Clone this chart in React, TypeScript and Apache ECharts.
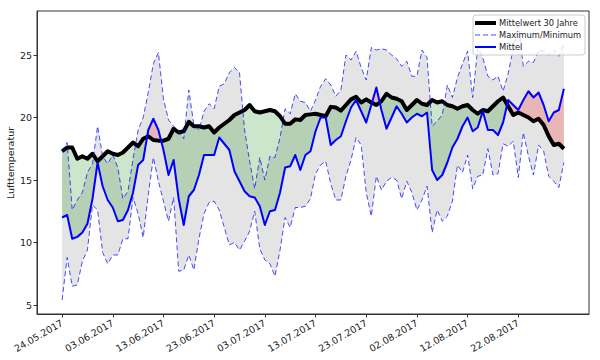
import React, { useEffect, useRef } from "react";
import * as echarts from "echarts";

const tickDays = [0, 10, 20, 30, 40, 50, 60, 70, 80, 90];
const yTicks = [5, 10, 15, 20, 25];
const legendLabels = ["Mittelwert 30 Jahre", "Maximum/Minimum", "Mittel"];
const yAxisTitle = "Lufttemperatur";

const mean30 = [
  17.3, 17.6, 17.6, 16.7, 16.9, 16.7, 17.1, 16.5, 16.9, 17.3,
  17.1, 17.0, 17.2, 17.6, 18.0, 17.7, 18.3, 18.5, 18.2, 18.15,
  18.15, 18.3, 19.1, 18.8, 18.9, 19.65, 19.3, 19.3, 19.2, 19.3,
  18.8, 19.2, 19.5, 19.8, 20.2, 20.4, 20.6, 21.0, 20.5, 20.4,
  20.5, 20.6, 20.5, 20.1, 19.5, 19.5, 19.85, 19.8, 20.2, 20.25,
  20.3, 20.2, 20.1, 20.85, 20.8, 20.55, 21.0, 21.45, 21.65, 21.2,
  21.45, 21.2, 21.0, 21.3, 21.9, 21.6, 21.5, 21.3, 20.6, 21.0,
  21.4, 21.1, 21.0, 21.4, 21.2, 21.3, 21.0, 20.9, 20.7, 20.9,
  21.0, 20.6, 20.3, 20.6, 20.5, 20.9, 21.3, 21.6, 20.9, 20.2,
  20.4, 20.2, 20.0, 19.7, 19.9, 19.4, 18.5, 17.8, 17.9, 17.5,
];

const mittel = [
  12.0, 12.2, 10.3, 10.45, 10.8, 11.5, 13.5, 16.4, 14.5, 13.4,
  12.8, 11.7, 11.8, 12.6, 14.0, 16.2, 16.6, 19.0, 19.9, 19.0,
  17.4, 15.4, 16.6, 13.5, 11.4, 13.7, 14.2, 15.4, 17.0, 17.0,
  17.0, 18.4, 17.9, 17.4, 15.7, 14.9, 14.1, 13.7, 13.6, 12.9,
  11.4, 12.5, 12.6, 14.0, 16.0, 16.1, 17.0, 15.8, 17.0, 17.3,
  18.9, 20.0, 20.0, 17.8, 18.2, 18.5, 19.7, 20.8, 21.4, 20.5,
  19.6, 21.0, 22.4, 20.6, 19.1, 20.0, 20.9, 20.3, 19.6, 20.0,
  20.3, 20.1, 20.4, 15.8, 15.0, 15.4, 16.4, 17.6, 18.3, 19.3,
  20.0, 18.9, 19.2, 20.5, 19.0, 19.0, 18.6, 19.6, 21.4, 21.0,
  20.6, 21.4, 22.1, 21.6, 22.0, 21.0, 19.7, 20.4, 20.6, 22.3,
];

const maxT = [
  17.3, 18.0, 12.6, 13.4, 14.0, 15.6, 16.3, 19.3, 16.9, 16.3,
  17.0, 16.0, 13.5, 14.1, 16.7, 19.0, 20.0, 22.0, 24.3, 25.2,
  21.5, 19.8, 19.3, 18.9, 18.3, 22.2, 19.4, 19.0, 20.5, 21.1,
  20.7, 22.5, 22.7, 23.6, 24.0, 23.6, 19.0, 16.5, 14.3, 16.8,
  15.0, 16.9, 16.8, 18.4, 20.7, 20.3, 21.9, 21.3, 21.2, 20.5,
  21.4, 22.5, 23.1, 22.6, 21.7, 22.2, 25.0, 24.6, 25.3, 24.0,
  23.0, 25.6, 25.4, 25.5, 25.4, 25.0, 24.7, 24.1, 24.5, 23.3,
  23.3, 25.4, 24.8, 19.3, 19.7, 20.2, 22.6, 21.6, 23.2, 24.3,
  25.3, 21.6, 25.6, 24.8, 23.3, 23.0, 23.3, 22.1, 23.5, 25.5,
  27.4, 24.1, 24.5, 24.4, 25.4, 25.3, 25.0, 25.4, 24.9, 26.0,
];

const minT = [
  5.4, 8.8, 6.5, 6.6, 8.5, 9.4, 13.0, 12.6, 9.2, 8.3,
  9.0, 9.0, 10.3, 10.3, 13.6, 12.3, 10.4, 13.8, 16.8, 14.9,
  13.3, 11.7, 13.6, 7.7, 7.8, 9.0, 7.8, 10.3, 12.3, 13.2,
  13.3, 12.6, 11.2, 9.8, 10.0, 9.4, 10.1, 10.9, 12.5, 9.5,
  8.6, 8.3, 7.3, 9.4, 12.0, 11.2, 12.8, 12.8, 12.9, 13.5,
  15.5, 16.2, 16.5, 14.7, 13.4, 13.4, 15.3, 16.6, 18.4, 17.8,
  14.0, 12.1, 15.3, 14.2, 14.9, 15.2, 15.0, 13.5, 14.9, 14.0,
  12.6, 13.4, 14.5, 10.8, 12.6, 11.7, 12.1, 13.3, 16.2, 15.6,
  17.0, 14.3, 15.3, 15.4, 17.5, 15.4, 15.5, 17.9, 17.7, 18.1,
  15.2, 18.8, 16.9, 15.4, 17.8, 17.3, 15.3, 14.9, 14.4, 16.4,
];

function fmtDate(d: number): string {
  const dt = new Date(2017, 4, 24 + Math.round(d));
  const dd = String(dt.getDate()).padStart(2, "0");
  const mm = String(dt.getMonth() + 1).padStart(2, "0");
  return `${dd}.${mm}.${dt.getFullYear()}`;
}

type Run = { sign: number; pts: number[][] };

function diffRuns(a: number[], b: number[]): Run[] {
  const runs: Run[] = [];
  let cur: number[][] = [[0, a[0], b[0]]];
  for (let i = 0; i < a.length - 1; i++) {
    const d0 = a[i] - b[i];
    const d1 = a[i + 1] - b[i + 1];
    if (d0 * d1 < 0) {
      const t = d0 / (d0 - d1);
      const x = i + t;
      const y = a[i] + t * (a[i + 1] - a[i]);
      cur.push([x, y, y]);
      runs.push({ sign: 0, pts: cur });
      cur = [[x, y, y]];
    }
    cur.push([i + 1, a[i + 1], b[i + 1]]);
  }
  runs.push({ sign: 0, pts: cur });
  runs.forEach((r) => {
    let s = 0;
    r.pts.forEach((p) => (s += p[1] - p[2]));
    r.sign = s >= 0 ? 1 : -1;
  });
  return runs;
}

export default function App() {
  const ref = useRef<HTMLDivElement>(null);
  useEffect(() => {
    if (!ref.current) return;
    const chart = echarts.init(ref.current, null, { renderer: "svg" });
    const runs = diffRuns(mean30, mittel);
    const toXY = (arr: number[]) => arr.map((v, i) => [i, v]);
    const font = "DejaVu Sans";
    const legX = 473;
    const legY = 15;
    const rows = [23, 35, 47];
    const LZ = 100;
    chart.setOption({
      animation: false,
      backgroundColor: "#ffffff",
      grid: {
        left: 37,
        right: 11,
        top: 11,
        bottom: 46,
        show: true,
        borderColor: "#333",
        borderWidth: 1,
        backgroundColor: "transparent",
      },
      xAxis: {
        type: "value",
        min: -4.95,
        max: 103.95,
        splitLine: { show: false },
        axisLine: { show: true, onZero: false, lineStyle: { color: "#333", width: 1 } },
        axisTick: {
          show: true,
          customValues: tickDays,
          length: 3.5,
          lineStyle: { color: "#333", width: 1 },
        },
        axisLabel: {
          customValues: tickDays,
          formatter: (v: number) => fmtDate(v),
          rotate: 30,
          margin: 8,
          fontSize: 9.5,
          color: "#222",
          fontFamily: font,
        },
      },
      yAxis: {
        type: "value",
        min: 4.28,
        max: 28.52,
        splitLine: { show: false },
        axisLine: { show: true, onZero: false, lineStyle: { color: "#333", width: 1 } },
        axisTick: {
          show: true,
          customValues: yTicks,
          length: 3.5,
          lineStyle: { color: "#333", width: 1 },
        },
        axisLabel: {
          customValues: yTicks,
          margin: 5,
          fontSize: 9.5,
          color: "#222",
          fontFamily: font,
        },
      },
      series: [
        {
          type: "custom",
          silent: true,
          z: 1,
          data: [[0, 15]],
          encode: { x: 0, y: 1 },
          renderItem: (params: any, api: any) => {
            if (params.dataIndex !== 0) return null;
            const c = (x: number, y: number) => api.coord([x, y]);
            const band = [
              ...maxT.map((v, i) => c(i, v)),
              ...minT.map((v, i) => c(i, v)).reverse(),
            ];
            const children: any[] = [
              { type: "polygon", shape: { points: band }, style: { fill: "#e4e4e4" } },
            ];
            runs.forEach((r) => {
              const pts = [
                ...r.pts.map((p) => c(p[0], p[1])),
                ...r.pts.map((p) => c(p[0], p[2])).reverse(),
              ];
              children.push({
                type: "polygon",
                shape: { points: pts },
                style: {
                  fill: r.sign > 0 ? "rgba(0,128,0,0.2)" : "rgba(255,0,0,0.2)",
                },
              });
            });
            return { type: "group", children };
          },
        },
        {
          name: legendLabels[0],
          type: "line",
          data: toXY(mean30),
          showSymbol: false,
          symbol: "none",
          z: 3,
          lineStyle: { color: "#000", width: 4, join: "round" },
        },
        {
          name: legendLabels[1],
          type: "line",
          data: toXY(maxT),
          showSymbol: false,
          symbol: "none",
          z: 4,
          lineStyle: { color: "rgba(0,0,255,0.7)", width: 1, type: [5, 3] },
        },
        {
          name: legendLabels[1] + " ",
          type: "line",
          data: toXY(minT),
          showSymbol: false,
          symbol: "none",
          z: 4,
          lineStyle: { color: "rgba(0,0,255,0.7)", width: 1, type: [5, 3] },
        },
        {
          name: legendLabels[2],
          type: "line",
          data: toXY(mittel),
          showSymbol: false,
          symbol: "none",
          z: 5,
          lineStyle: { color: "#0000ff", width: 2, join: "round" },
        },
      ],
      graphic: [
        {
          type: "text",
          x: 10,
          y: 163,
          rotation: Math.PI / 2,
          style: {
            text: yAxisTitle,
            fontSize: 9.5,
            fontFamily: font,
            fill: "#222",
            align: "center",
            verticalAlign: "middle",
          },
        },
        {
          type: "rect",
          z: LZ,
          zlevel: 1,
          shape: { x: legX, y: legY, width: 112, height: 40, r: 3 },
          style: { fill: "rgba(255,255,255,0.8)", stroke: "#cccccc", lineWidth: 1 },
        },
        {
          type: "line",
          z: LZ + 1,
          zlevel: 1,
          shape: { x1: 475, y1: rows[0], x2: 496, y2: rows[0] },
          style: { stroke: "#000", lineWidth: 4 },
        },
        {
          type: "line",
          z: LZ + 1,
          zlevel: 1,
          shape: { x1: 475, y1: rows[1], x2: 496, y2: rows[1] },
          style: { stroke: "rgba(0,0,255,0.7)", lineWidth: 1, lineDash: [5, 3] },
        },
        {
          type: "line",
          z: LZ + 1,
          zlevel: 1,
          shape: { x1: 475, y1: rows[2], x2: 496, y2: rows[2] },
          style: { stroke: "#0000ff", lineWidth: 2 },
        },
        ...legendLabels.map((t, i) => ({
          type: "text",
          z: LZ + 1,
          zlevel: 1,
          x: 499,
          y: rows[i],
          style: {
            text: t,
            fontSize: 8.3,
            fontFamily: font,
            fill: "#222",
            verticalAlign: "middle",
          },
        })),
      ],
    });
    return () => chart.dispose();
  }, []);
  return (
    <div
      ref={ref}
      style={{ position: "fixed", left: 0, top: 0, width: 600, height: 360, background: "#fff" }}
    />
  );
}
